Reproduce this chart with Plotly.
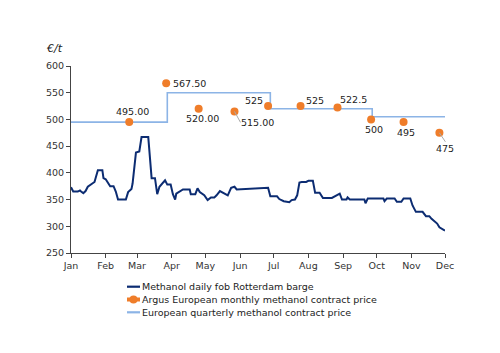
import plotly.graph_objects as go

# Daily fob Rotterdam barge (breakpoints)
daily_dates = [
    "2019-01-01", "2019-01-03", "2019-01-07", "2019-01-09", "2019-01-10", "2019-01-12",
    "2019-01-14", "2019-01-16", "2019-01-22", "2019-01-24", "2019-01-25", "2019-01-29",
    "2019-01-30", "2019-02-01", "2019-02-03", "2019-02-05", "2019-02-08", "2019-02-10",
    "2019-02-12", "2019-02-19", "2019-02-21", "2019-02-24", "2019-02-25", "2019-02-28",
    "2019-03-03", "2019-03-05", "2019-03-11", "2019-03-12", "2019-03-14", "2019-03-17",
    "2019-03-19", "2019-03-21", "2019-03-24", "2019-03-26", "2019-03-28", "2019-03-31",
    "2019-04-02", "2019-04-04", "2019-04-05", "2019-04-07", "2019-04-11", "2019-04-17",
    "2019-04-18", "2019-04-22", "2019-04-24", "2019-04-26", "2019-04-30", "2019-05-03",
    "2019-05-06", "2019-05-09", "2019-05-11", "2019-05-14", "2019-05-17", "2019-05-21",
    "2019-05-24", "2019-05-27", "2019-05-29", "2019-06-10", "2019-06-25", "2019-06-26",
    "2019-06-28", "2019-07-04", "2019-07-06", "2019-07-10", "2019-07-15", "2019-07-17",
    "2019-07-20", "2019-07-22", "2019-07-24", "2019-07-26", "2019-07-30", "2019-08-01",
    "2019-08-05", "2019-08-07", "2019-08-11", "2019-08-14", "2019-08-22", "2019-08-27",
    "2019-08-29", "2019-08-31", "2019-09-04", "2019-09-05", "2019-09-07", "2019-09-20",
    "2019-09-21", "2019-09-23", "2019-10-07", "2019-10-08", "2019-10-10", "2019-10-17",
    "2019-10-19", "2019-10-23", "2019-10-25", "2019-10-31", "2019-11-02", "2019-11-05",
    "2019-11-11", "2019-11-14", "2019-11-17", "2019-11-19", "2019-11-22", "2019-11-24",
    "2019-11-26", "2019-11-29", "2019-12-01",
]
daily_values = [
    373, 365, 365, 367, 365, 362,
    366, 374, 383, 399, 405, 405,
    390, 388, 380, 375, 375, 365,
    350, 350, 364, 370, 380, 438,
    440, 467, 467, 436, 390, 390,
    360, 374, 382, 386, 378, 378,
    360, 350, 361, 364, 369, 369,
    360, 360, 371, 364, 358, 349,
    354, 354, 358, 366, 362, 358,
    372, 374, 369, 370, 372, 372,
    356, 356, 351, 347, 345, 349,
    350, 358, 382, 383, 383, 385,
    385, 363, 363, 353, 353, 358,
    361, 350, 350, 354, 350, 350,
    343, 352, 352, 347, 352, 352,
    346, 346, 352, 352, 339, 327,
    327, 319, 319, 314, 308, 305,
    298, 294, 292,
]

# Argus European monthly contract price
monthly_dates = ["2019-02-22", "2019-03-27", "2019-04-25", "2019-05-27", "2019-06-26",
                 "2019-07-25", "2019-08-27", "2019-09-26", "2019-10-25", "2019-11-26"]
monthly_values = [495, 567.5, 520, 515, 525, 525, 522.5, 500, 495, 475]
monthly_labels = ["495.00", "567.50", "520.00", "515.00", "525", "525", "522.5", "500", "495", "475"]

# European quarterly contract price (step line)
quarter_dates = ["2019-01-01", "2019-03-28", "2019-06-28", "2019-09-27", "2019-12-01"]
quarter_values = [495, 550, 520, 505, 505]

y_ticks = [250, 300, 350, 400, 450, 500, 550, 600]

series_names = ["Methanol daily fob Rotterdam barge",
                "Argus European monthly methanol contract price",
                "European quarterly methanol contract price"]

NAVY = "#0c2c72"
ORANGE = "#ef7d2a"
LBLUE = "#8cb4e6"
FONT = "DejaVu Sans"

fig = go.Figure()
fig.add_trace(go.Scatter(x=daily_dates, y=daily_values, mode="lines",
                         line=dict(color=NAVY, width=2), name=series_names[0]))
fig.add_trace(go.Scatter(x=quarter_dates, y=quarter_values, mode="lines",
                         line=dict(color=LBLUE, width=1.6, shape="hv"), name=series_names[2]))

# label offsets: text (xshift, yshift, xanchor, yanchor) or arrow (ax, ay, xanchor, yanchor)
label_pos = [
    ("t", 3, 11, "center", "middle"),
    ("t", 5, 0, "left", "middle"),
    ("t", 4, -10, "center", "middle"),
    ("a", 6, 11, "left", "middle"),
    ("t", -3, 6, "right", "middle"),
    ("t", 3, 6, "left", "middle"),
    ("t", 0, 8, "left", "middle"),
    ("t", 3, -10, "center", "middle"),
    ("t", 2, -10, "center", "middle"),
    ("a", 6, 9, "center", "top"),
]
for d, v, lab, pos in zip(monthly_dates, monthly_values, monthly_labels, label_pos):
    kind, a, b, xa, ya = pos
    if kind == "t":
        fig.add_annotation(x=d, y=v, text=lab, showarrow=False, xshift=a, yshift=b,
                           xanchor=xa, yanchor=ya,
                           font=dict(family=FONT, size=9.5, color="#222"))
    else:
        fig.add_annotation(x=d, y=v, text=lab, showarrow=True, arrowhead=0,
                           arrowwidth=1, arrowcolor="#aaaaaa", ax=a, ay=b,
                           xanchor=xa, yanchor=ya, standoff=0, borderpad=0,
                           font=dict(family=FONT, size=9.5, color="#222"))

fig.add_trace(go.Scatter(x=monthly_dates, y=monthly_values, mode="markers",
                         marker=dict(color=ORANGE, size=8), name=series_names[1]))

fig.add_annotation(xref="paper", yref="paper", x=-0.045, y=1.096, text="<i>€/t</i>",
                   showarrow=False, xanchor="center", yanchor="middle",
                   font=dict(family=FONT, size=11, color="#222"))

# custom legend (compact, as in the reference)
PLOT_L, PLOT_W, PLOT_B, PLOT_H = 71, 374, 253, 187
def px(x):
    return (x - PLOT_L) / PLOT_W
def py(y):
    return (PLOT_B - y) / PLOT_H

leg_rows = [286.7, 299.5, 312.3]
leg_styles = [(NAVY, 2.2, False), (ORANGE, 4, True), (LBLUE, 2.2, False)]
for name, row, (col, w, mk) in zip(series_names, leg_rows, leg_styles):
    fig.add_shape(type="line", xref="paper", yref="paper", x0=px(127), x1=px(140),
                  y0=py(row), y1=py(row), line=dict(color=col, width=w))
    if mk:
        fig.add_shape(type="circle", xref="paper", yref="paper", x0=px(129.5), x1=px(137.5),
                      y0=py(row + 4), y1=py(row - 4), fillcolor=col, line=dict(width=0))
    fig.add_annotation(xref="paper", yref="paper", x=px(140), y=py(row), text=name,
                       showarrow=False, xanchor="left", yanchor="middle",
                       font=dict(family=FONT, size=9.5, color="#222"))

fig.update_layout(
    width=500, height=353,
    margin=dict(l=71, r=55, t=66, b=100),
    paper_bgcolor="white", plot_bgcolor="white",
    font=dict(family=FONT, size=9, color="#333"),
    showlegend=False,
)
fig.update_xaxes(type="date", range=["2019-01-01", "2019-12-01"], dtick="M1",
                 tick0="2019-01-01", tickformat="%b", showgrid=False, zeroline=False,
                 showline=True, linecolor="#444", linewidth=1, ticks="outside",
                 ticklen=4, tickcolor="#444", tickfont=dict(size=9.5, color="#333"))
fig.update_yaxes(range=[250, 600], tickvals=y_ticks, showgrid=False, zeroline=False,
                 showline=True, linecolor="#444", linewidth=1, ticks="outside",
                 ticklen=4, tickcolor="#444", tickfont=dict(size=9.5, color="#333"))

fig.write_html("out.html")
